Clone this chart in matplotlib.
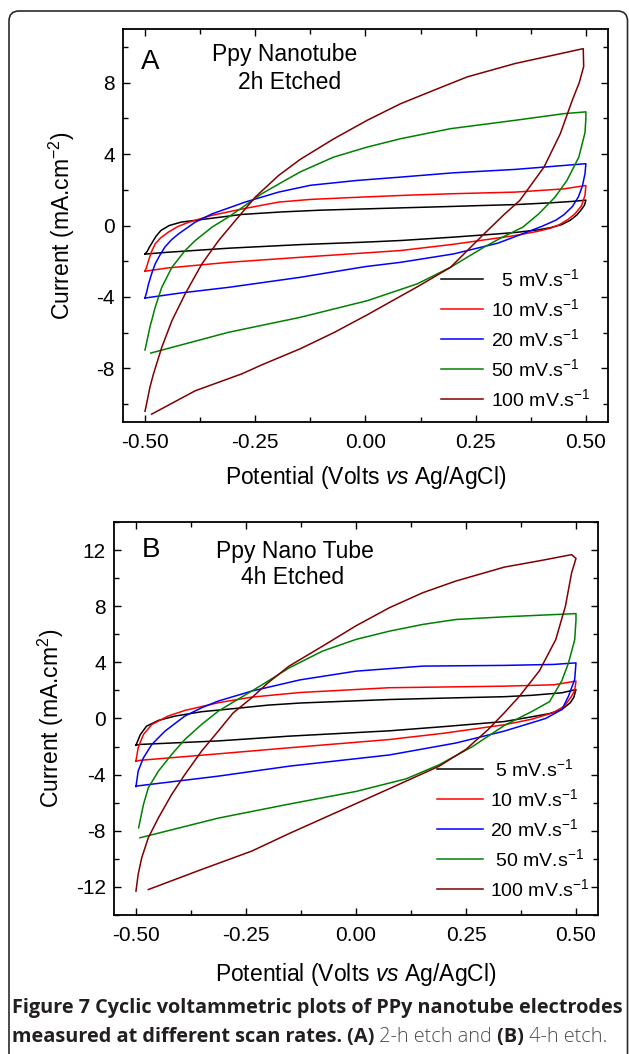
import matplotlib
matplotlib.use('Agg')
import matplotlib.pyplot as plt
from matplotlib.patches import FancyBboxPatch
from matplotlib.ticker import MultipleLocator
from matplotlib.transforms import IdentityTransform

plt.rcParams['font.family'] = ['Liberation Sans', 'DejaVu Sans']
plt.rcParams['mathtext.fontset'] = 'custom'
plt.rcParams['mathtext.rm'] = 'Liberation Sans'
plt.rcParams['mathtext.it'] = 'Liberation Sans:italic'
plt.rcParams['mathtext.default'] = 'regular'
plt.rcParams['axes.unicode_minus'] = False

# ------ data (potential V, current mA/cm2) ------
# each loop: forward scan (-0.5 -> 0.5) followed by reverse scan

# panel A : 2h etched
a5_v = [-0.5, -0.495, -0.49, -0.475, -0.464, -0.445, -0.418, -0.373, -0.28, -0.19, -0.1, 0.0, 0.084, 0.2, 0.266, 0.34, 0.42, 0.47, 0.5,
        0.497, 0.49, 0.48, 0.465, 0.445, 0.42, 0.39, 0.34, 0.3, 0.2, 0.08, 0.0, -0.148, -0.31, -0.45, -0.5]
a5_i = [-1.6, -1.45, -1.21, -0.6, -0.28, 0.0, 0.19, 0.33, 0.62, 0.76, 0.86, 0.93, 0.99, 1.07, 1.12, 1.17, 1.27, 1.35, 1.42,
        1.15, 0.9, 0.6, 0.3, 0.05, -0.12, -0.25, -0.39, -0.47, -0.65, -0.84, -0.93, -1.07, -1.27, -1.5, -1.6]

a10_v = [-0.5, -0.496, -0.492, -0.485, -0.477, -0.465, -0.447, -0.425, -0.4, -0.35, -0.3, -0.27, -0.197, -0.125, 0.0, 0.1, 0.2, 0.34, 0.45, 0.5,
         0.498, 0.49, 0.475, 0.46, 0.44, 0.42, 0.39, 0.34, 0.2, 0.08, -0.148, -0.31, -0.45, -0.5]
a10_i = [-2.55, -2.3, -1.96, -1.45, -1.03, -0.7, -0.37, -0.05, 0.19, 0.56, 0.82, 0.97, 1.31, 1.46, 1.6, 1.7, 1.78, 1.87, 2.05, 2.24,
         1.7, 1.1, 0.65, 0.35, 0.05, -0.15, -0.33, -0.56, -1.05, -1.4, -1.78, -2.06, -2.38, -2.56]

a20_v = [-0.5, -0.496, -0.492, -0.485, -0.477, -0.466, -0.455, -0.44, -0.424, -0.386, -0.348, -0.273, -0.197, -0.125, -0.02, 0.08, 0.2, 0.34, 0.45, 0.5,
         0.498, 0.492, 0.483, 0.469, 0.45, 0.432, 0.4, 0.34, 0.3, 0.2, 0.08, 0.0, -0.148, -0.31, -0.42, -0.5]
a20_i = [-4.05, -3.7, -3.27, -2.7, -2.15, -1.65, -1.21, -0.8, -0.47, 0.19, 0.65, 1.31, 1.87, 2.25, 2.52, 2.71, 2.95, 3.14, 3.36, 3.46,
         2.9, 2.2, 1.6, 1.05, 0.6, 0.3, -0.05, -0.62, -0.99, -1.59, -2.06, -2.3, -2.9, -3.46, -3.78, -4.06]

a50_v = [-0.5, -0.489, -0.477, -0.462, -0.439, -0.409, -0.386, -0.348, -0.311, -0.273, -0.235, -0.189, -0.148, -0.072, 0.004, 0.08, 0.193, 0.34, 0.45, 0.5,
         0.5, 0.498, 0.484, 0.457, 0.43, 0.393, 0.357, 0.311, 0.269, 0.193, 0.117, 0.004, -0.148, -0.311, -0.487]
a50_i = [-6.97, -5.7, -4.58, -3.46, -2.34, -1.4, -0.84, -0.09, 0.47, 1.12, 1.78, 2.43, 3.0, 3.83, 4.39, 4.86, 5.42, 5.89, 6.26, 6.36,
         6.0, 5.2, 3.83, 2.52, 1.59, 0.65, -0.09, -0.65, -1.21, -2.34, -3.27, -4.21, -5.14, -5.98, -7.14]

a100_v = [-0.5, -0.495, -0.489, -0.481, -0.462, -0.439, -0.409, -0.371, -0.333, -0.295, -0.25, -0.197, -0.148, -0.072, 0.004, 0.08, 0.155, 0.231, 0.34, 0.42, 0.494,
          0.495, 0.485, 0.469, 0.442, 0.405, 0.35, 0.316, 0.269, 0.193, 0.12, 0.08, 0.004, -0.072, -0.148, -0.235, -0.28, -0.386, -0.485]
a100_i = [-10.4, -9.8, -9.07, -8.32, -6.82, -5.33, -3.83, -2.15, -0.84, 0.28, 1.59, 2.8, 3.7, 4.85, 5.89, 6.82, 7.57, 8.32, 9.07, 9.5, 9.9,
          8.9, 8.0, 7.0, 5.14, 3.27, 1.4, 0.65, -0.47, -2.34, -3.4, -3.95, -5.0, -6.0, -6.9, -7.8, -8.3, -9.25, -10.56]

# panel B : 4h etched
b5_v = [-0.5, -0.496, -0.49, -0.476, -0.449, -0.411, -0.351, -0.275, -0.2, -0.127, 0.076, 0.2, 0.337, 0.4, 0.468, 0.5,
        0.495, 0.487, 0.468, 0.44, 0.4, 0.337, 0.2, 0.076, -0.152, -0.313, -0.49, -0.5]
b5_i = [-1.9, -1.6, -1.14, -0.55, -0.14, 0.17, 0.48, 0.71, 0.95, 1.1, 1.35, 1.45, 1.55, 1.65, 1.83, 2.06,
        1.5, 1.12, 0.64, 0.35, 0.12, -0.22, -0.58, -0.88, -1.26, -1.6, -1.85, -1.9]

b10_v = [-0.5, -0.495, -0.489, -0.483, -0.464, -0.427, -0.389, -0.313, -0.237, -0.127, 0.076, 0.337, 0.45, 0.5,
         0.497, 0.49, 0.474, 0.447, 0.4, 0.337, 0.2, 0.076, -0.152, -0.313, -0.49, -0.5]
b10_i = [-3.0, -2.09, -1.6, -1.14, -0.43, 0.17, 0.57, 1.12, 1.52, 1.85, 2.19, 2.3, 2.4, 2.66,
         2.0, 1.59, 0.88, 0.4, -0.05, -0.45, -1.05, -1.5, -2.09, -2.52, -2.98, -3.05]

b20_v = [-0.5, -0.495, -0.483, -0.464, -0.434, -0.389, -0.351, -0.313, -0.237, -0.127, 0.0, 0.152, 0.337, 0.45, 0.5,
         0.497, 0.483, 0.468, 0.431, 0.4, 0.337, 0.227, 0.076, -0.152, -0.313, -0.5]
b20_i = [-4.85, -3.75, -2.8, -1.85, -0.9, 0.17, 0.76, 1.24, 1.95, 2.75, 3.37, 3.73, 3.78, 3.85, 3.96,
         2.78, 1.59, 0.64, 0.0, -0.3, -0.9, -1.75, -2.6, -3.4, -4.11, -4.82]

b50_v = [-0.494, -0.483, -0.472, -0.449, -0.419, -0.389, -0.351, -0.313, -0.275, -0.237, -0.2, -0.152, -0.076, 0.0, 0.076, 0.152, 0.227, 0.337, 0.45, 0.5,
         0.5, 0.497, 0.483, 0.468, 0.44, 0.4, 0.337, 0.265, 0.189, 0.114, 0.0, -0.152, -0.313, -0.491]
b50_i = [-7.79, -6.13, -4.94, -3.75, -2.57, -1.5, -0.43, 0.52, 1.24, 1.95, 2.66, 3.6, 4.8, 5.63, 6.22, 6.7, 7.05, 7.24, 7.4, 7.47,
         7.0, 5.6, 3.96, 2.7, 1.2, 0.5, -0.5, -2.0, -3.3, -4.3, -5.2, -6.1, -7.1, -8.5]

b100_v = [-0.5, -0.495, -0.487, -0.472, -0.449, -0.419, -0.389, -0.351, -0.313, -0.279, -0.237, -0.2, -0.152, -0.076, 0.0, 0.076, 0.152, 0.227, 0.337, 0.42, 0.49,
          0.5, 0.49, 0.476, 0.454, 0.417, 0.372, 0.337, 0.3, 0.25, 0.189, 0.076, -0.038, -0.152, -0.237, -0.351, -0.472]
b100_i = [-12.3, -11.1, -9.93, -8.5, -7.08, -5.42, -4.0, -2.33, -0.9, 0.4, 1.47, 2.54, 3.73, 5.15, 6.6, 7.89, 8.96, 9.79, 10.78, 11.25, 11.67,
          11.4, 10.37, 8.0, 5.62, 3.4, 1.6, 0.4, -0.8, -2.2, -3.4, -5.0, -6.6, -8.2, -9.45, -10.76, -12.19]

colors = ['black', 'red', 'blue', 'green', '#800000']
a_labels = ['  5 mV.s$^{-1}$', '10 mV.s$^{-1}$', '20 mV.s$^{-1}$', '50 mV.s$^{-1}$', '100 mV.s$^{-1}$']
b_labels = [' 5 mV.s$^{-1}$', '10 mV.s$^{-1}$', '20 mV.s$^{-1}$', ' 50 mV.s$^{-1}$', '100 mV.s$^{-1}$']

# ----------- figure -------------------------------
fig = plt.figure(figsize=(6.29, 10.54), dpi=100)

# rounded frame around the whole figure
frame = FancyBboxPatch((0.09, -0.3), 6.185, 10.73, boxstyle='round,pad=0,rounding_size=0.1',
                       transform=fig.dpi_scale_trans, fill=False, lw=1.2, ec='#2a2a2a')
fig.add_artist(frame)


def draw_panel(ax, loops, labels, ylim, ylabel, leg_x, leg_y, hlen):
    for (v, i), c, lab in zip(loops, colors, labels):
        ax.plot(v, i, color=c, lw=1.1, label=lab)
    ax.set_xlim(-0.55, 0.55)
    ax.set_ylim(-ylim, ylim)
    ax.xaxis.set_major_locator(MultipleLocator(0.25))
    ax.xaxis.set_minor_locator(MultipleLocator(0.125))
    ax.yaxis.set_major_locator(MultipleLocator(4))
    ax.yaxis.set_minor_locator(MultipleLocator(2))
    ax.xaxis.set_major_formatter(plt.FormatStrFormatter('%.2f'))
    ax.tick_params(which='both', direction='in', top=True, right=True, width=1.0, labelsize=15)
    ax.tick_params(which='major', length=5)
    ax.tick_params(which='minor', length=3.5)
    ax.tick_params(axis='x', pad=8)
    ax.tick_params(axis='y', pad=6)
    for s in ax.spines.values():
        s.set_linewidth(1.3)
    ax.set_xlabel('Potential (Volts $\\mathit{vs}$ Ag/AgCl)', fontsize=16.5)
    ax.set_ylabel(ylabel, fontsize=16.5)
    ax.legend(loc='upper left', bbox_to_anchor=(leg_x, leg_y), frameon=False, fontsize=14,
              handlelength=hlen, handletextpad=0.4, labelspacing=0.42, borderpad=0, borderaxespad=0)


axA = fig.add_axes([0.1955, 0.5996, 0.771, 0.3729])
draw_panel(axA, [(a5_v, a5_i), (a10_v, a10_i), (a20_v, a20_i), (a50_v, a50_i), (a100_v, a100_i)],
           a_labels, 11.0, 'Current (mA.cm$^{-2}$)', 0.655, 0.392, 2.2)
axA.yaxis.set_label_coords(-0.094, 0.5)
axA.xaxis.set_label_coords(0.5, -0.108)
axA.text(0.056, 0.916, 'A', transform=axA.transAxes, fontsize=20, ha='center', va='center')
axA.text(0.334, 0.934, 'Ppy Nanotube', transform=axA.transAxes, fontsize=16.5, ha='center', va='center')
axA.text(0.344, 0.863, '2h Etched', transform=axA.transAxes, fontsize=16.5, ha='center', va='center')

axB = fig.add_axes([0.1812, 0.1319, 0.7695, 0.3729])
draw_panel(axB, [(b5_v, b5_i), (b10_v, b10_i), (b20_v, b20_i), (b50_v, b50_i), (b100_v, b100_i)],
           b_labels, 14.0, 'Current (mA.cm$^{2}$)', 0.667, 0.40, 2.35)
axB.yaxis.set_label_coords(-0.1, 0.5)
axB.xaxis.set_label_coords(0.5, -0.118)
axB.text(0.076, 0.929, 'B', transform=axB.transAxes, fontsize=20, ha='center', va='center')
axB.text(0.374, 0.924, 'Ppy Nano Tube', transform=axB.transAxes, fontsize=16.5, ha='center', va='center')
axB.text(0.370, 0.858, '4h Etched', transform=axB.transAxes, fontsize=16.5, ha='center', va='center')

# ----------- caption -------------------------------
renderer = fig.canvas.get_renderer()
dark = '#231f20'
grey = '#4d4d4d'
cap_font = ['Open Sans', 'DejaVu Sans']
x0, width = 12, 612
line1 = fig.text(x0, 46, 'Figure 7 Cyclic voltammetric plots of PPy nanotube electrodes', transform=IdentityTransform(),
                 fontsize=12, family=cap_font, weight='bold', color=dark, va='center', ha='left')
w = line1.get_window_extent(renderer).width
cap_fs = 12 * width / w
line1.set_fontsize(cap_fs)

pieces = [('measured at different scan rates.', 'bold', dark), (' (A)', 'bold', dark), (' 2-h etch and', 'light', grey),
          (' (B)', 'bold', dark), (' 4-h etch.', 'light', grey)]
x = x0
for s, wt, c in pieces:
    t = fig.text(x, 17, s, transform=IdentityTransform(), fontsize=cap_fs, family=cap_font, weight=wt,
                 color=c, va='center', ha='left')
    x = t.get_window_extent(renderer).x1

plt.savefig('out.png', dpi=100)
